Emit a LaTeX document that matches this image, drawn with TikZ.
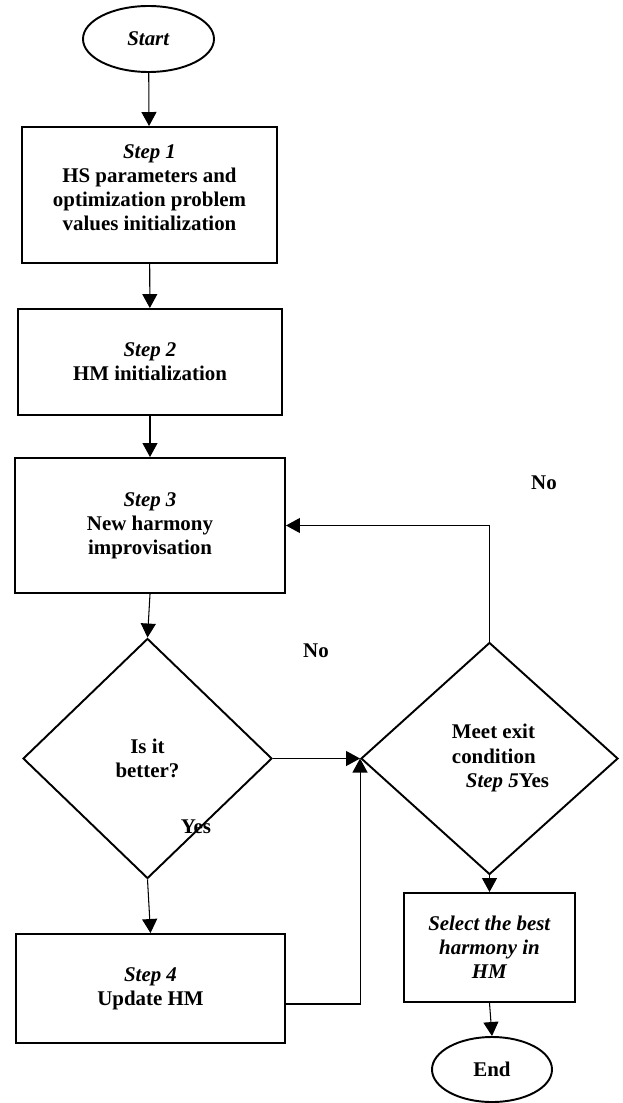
\documentclass[tikz,border=0pt]{standalone}
\usepackage{fontspec}
\setmainfont{Liberation Serif}
\usetikzlibrary{shapes.geometric,arrows.meta}

\tikzset{
    txt/.style={font=\bfseries\fontsize{11.9}{13.7}\selectfont, align=center},
    stepbox/.style={txt, draw, rectangle, line width=1.1pt, inner sep=0pt},
    termnode/.style={txt, draw, ellipse, line width=1.1pt, inner sep=0pt},
    decision/.style={txt, draw, diamond, line width=1.1pt, inner sep=0pt},
    flow/.style={line width=0.6pt, -{Triangle[length=0.28cm,width=0.3cm]}},
}

\begin{document}
\begin{tikzpicture}
        \useasboundingbox (0,0) rectangle (12.44,-22.06);
        % left column
        \node[termnode, minimum width=2.62cm, minimum height=1.32cm] (start) at (2.97,-0.78) {\textit{Start}};
        \node[stepbox, minimum width=5.1cm, minimum height=2.72cm] (step1) at (2.99,-3.9)
            {\textit{Step 1}\\HS parameters and\\optimization problem\\values initialization\\[-0.2cm]};
        \node[stepbox, minimum width=5.28cm, minimum height=2.12cm] (step2) at (3.0,-7.24)
            {\textit{Step 2}\\HM initialization};
        \node[stepbox, minimum width=5.4cm, minimum height=2.7cm] (step3) at (3.0,-10.51)
            {\textit{Step 3}\\New harmony\\improvisation};
        \node[decision, minimum width=4.98cm, minimum height=4.8cm] (better) at (2.95,-15.17) {Is it\\better?};
        \node[stepbox, minimum width=5.38cm, minimum height=2.18cm] (step4) at (3.01,-19.77)
            {\textit{Step 4}\\Update HM};
        % right column
        \node[decision, minimum width=5.14cm, minimum height=4.64cm] (exit) at (9.79,-15.17) {};
        \node[txt, align=left] (exittxt) at (10.01,-15.16)
            {Meet exit\\condition\\\hspace*{0.28cm}\textit{Step 5}Yes};
        \node[stepbox, minimum width=3.42cm, minimum height=2.18cm] (select) at (9.79,-18.95)
            {\textit{Select the best}\\\textit{harmony in}\\\textit{HM}};
        \node[termnode, minimum width=2.4cm, minimum height=1.3cm] (end) at (9.84,-21.39) {End};
        % labels
        \node[txt] (no1) at (6.32,-13.02) {No};
        \node[txt] (no2) at (10.88,-9.66) {No};
        \node[txt] (yes) at (3.92,-16.54) {Yes};
        \coordinate (jn) at (7.22,-20.08);

        \draw[flow] (start) -- (step1);
        \draw[flow] (step1) -- (step2);
        \draw[flow] (step2) -- (step3);
        \draw[flow] (step3.south) -- (better.north);
        \draw[flow] (better.south) -- (step4.north);
        \draw[flow] (better.east) -- (exit.west);
        \draw[flow] (step4.east |- jn) -| (exit.west);
        \draw[flow] (exit.north) |- (step3.east);
        \draw[flow] (exit.south) -- (select.north);
        \draw[flow] (select.south) -- (end.north);
    \end{tikzpicture}
\end{document}
